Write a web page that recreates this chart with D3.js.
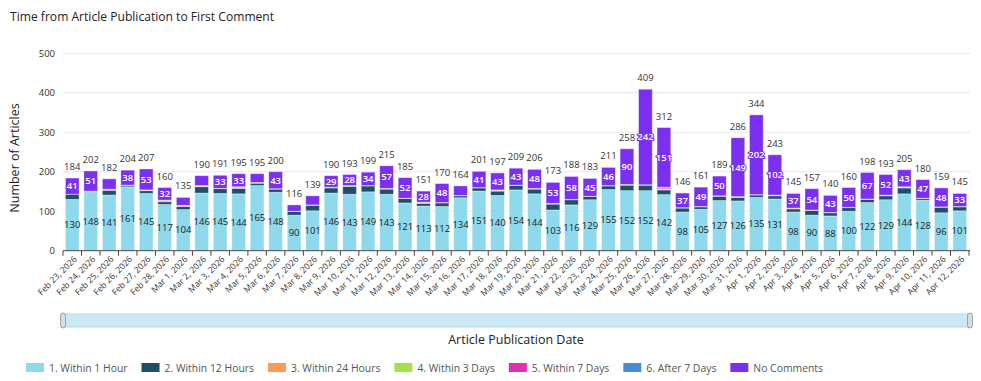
<!DOCTYPE html>
<html><head><meta charset="utf-8">
<script src="https://cdn.jsdelivr.net/npm/d3@7"></script>
<style>
body{margin:0;background:#fff;}
svg{font-family:"Open Sans",sans-serif;display:block;}
</style></head>
<body><svg id="c" width="981" height="381"></svg>
<script>
const dates = ["Feb 23, 2026","Feb 24, 2026","Feb 25, 2026","Feb 26, 2026","Feb 27, 2026","Feb 28, 2026",
"Mar 1, 2026","Mar 2, 2026","Mar 3, 2026","Mar 4, 2026","Mar 5, 2026","Mar 6, 2026","Mar 7, 2026","Mar 8, 2026","Mar 9, 2026","Mar 10, 2026",
"Mar 11, 2026","Mar 12, 2026","Mar 13, 2026","Mar 14, 2026","Mar 15, 2026","Mar 16, 2026","Mar 17, 2026","Mar 18, 2026","Mar 19, 2026","Mar 20, 2026",
"Mar 21, 2026","Mar 22, 2026","Mar 23, 2026","Mar 24, 2026","Mar 25, 2026","Mar 26, 2026","Mar 27, 2026","Mar 28, 2026","Mar 29, 2026","Mar 30, 2026",
"Mar 31, 2026","Apr 1, 2026","Apr 2, 2026","Apr 3, 2026","Apr 4, 2026","Apr 5, 2026","Apr 6, 2026","Apr 7, 2026","Apr 8, 2026","Apr 9, 2026",
"Apr 10, 2026","Apr 11, 2026","Apr 12, 2026"];
const within1h  = [130,148,141,161,145,117,104,146,145,144,165,148,90,101,146,143,149,143,121,113,112,134,151,140,154,144,103,116,129,155,152,152,142,98,105,127,126,135,131,98,90,88,100,122,129,144,128,96,101];
const within12h = [13,2,12,3,7,7,8,16,12,14,6,8,9,14,13,20,15,13,11,7,9,5,8,11,11,12,15,13,8,9,14,14,12,10,6,11,9,6,8,8,12,8,9,8,10,15,4,14,10];
const within24h = [0,1,3,2,2,3,2,2,1,3,2,1,1,1,2,2,1,2,1,2,1,1,1,2,1,2,2,1,1,1,2,1,2,1,1,1,1,1,2,2,1,1,1,1,2,2,1,1,1];
const within3d  = [0,0,0,0,0,1,1,1,0,1,0,0,0,0,0,0,0,0,0,1,0,0,0,1,0,0,0,0,0,0,0,0,1,0,0,0,1,0,0,0,0,0,0,0,0,1,0,0,0];
const within7d  = [0,0,0,0,0,0,0,0,0,0,0,0,0,0,0,0,0,0,0,0,0,0,0,0,0,0,0,0,0,0,0,0,3,0,0,0,0,0,0,0,0,0,0,0,0,0,0,0,0];
const after7d   = [0,0,0,0,0,0,0,0,0,0,0,0,0,0,0,0,0,0,0,0,0,0,0,0,0,0,0,0,0,0,0,0,1,0,0,0,0,0,0,0,0,0,0,0,0,0,0,0,0];
const noComments= [41,51,26,38,53,32,20,25,33,33,22,43,16,23,29,28,34,57,52,28,48,24,41,43,43,48,53,58,45,46,90,242,151,37,49,50,149,202,102,37,54,43,50,67,52,43,47,48,33];
const seriesNames = ["1. Within 1 Hour","2. Within 12 Hours","3. Within 24 Hours","4. Within 3 Days","5. Within 7 Days","6. After 7 Days","No Comments"];
const seriesColors = ["#8ed9ec","#1f4f66","#f89d58","#a8e048","#e62cb0","#4a8ad6","#7b2ff0"];
const yTicks = [0,100,200,300,400,500];

const seriesVals = [within1h,within12h,within24h,within3d,within7d,after7d,noComments];
const rows = dates.map((d,i)=>{const o={date:d};seriesNames.forEach((s,j)=>o[s]=seriesVals[j][i]);return o;});
const stack = d3.stack().keys(seriesNames)(rows);

const svg = d3.select("#c");
const L=63,R=969,T=53.3,B=250.7;
const x = d3.scaleBand().domain(dates).range([L,R]).paddingInner(0.26).paddingOuter(0.13);
const y = d3.scaleLinear().domain([0,500]).range([B,T]);
const color = d3.scaleOrdinal().domain(seriesNames).range(seriesColors);

svg.append("text").attr("x",10).attr("y",21).attr("font-size",12.1).attr("fill","#222").text("Time from Article Publication to First Comment");

// grid
svg.append("g").selectAll("line").data(yTicks.filter(t=>t>0)).join("line")
  .attr("x1",L).attr("x2",R+1).attr("y1",d=>y(d)).attr("y2",d=>y(d)).attr("stroke","#e8e8e8");
svg.append("g").selectAll("text").data(yTicks).join("text")
  .attr("x",55).attr("y",d=>y(d)).attr("dy","0.35em").attr("text-anchor","end")
  .attr("font-size",9.5).attr("fill","#333").text(d=>d);
svg.append("text").attr("transform",`translate(19,${(T+B)/2+6}) rotate(-90)`).attr("text-anchor","middle")
  .attr("font-size",12.5).attr("fill","#222").text("Number of Articles");

// bars
const g = svg.append("g");
g.selectAll("g").data(stack).join("g").attr("fill",d=>color(d.key))
 .selectAll("rect").data(d=>d).join("rect")
 .attr("x",d=>x(d.data.date)).attr("width",x.bandwidth())
 .attr("y",d=>y(d[1])).attr("height",d=>Math.max(0,y(d[0])-y(d[1])))
 .attr("stroke","rgba(255,255,255,0.45)").attr("stroke-width",0.8);

// x axis
svg.append("line").attr("x1",L).attr("x2",R+1).attr("y1",B).attr("y2",B).attr("stroke","#444");
const step = x.step();
const edges = dates.map(d=>x(d)-x.paddingInner()*step/2).concat([R]);
edges[0]=L;
svg.append("g").selectAll("line").data(edges).join("line")
  .attr("x1",d=>d).attr("x2",d=>d).attr("y1",B).attr("y2",B+5).attr("stroke","#444");
svg.append("g").selectAll("text").data(dates).join("text")
  .attr("transform",d=>`translate(${x(d)+x.bandwidth()/2+3},${B+7}) rotate(-45)`)
  .attr("text-anchor","end").attr("dy","0.35em").attr("font-size",8.6).attr("fill","#333").text(d=>d);

// segment labels
const h1 = stack[0], nc = stack[6];
svg.append("g").selectAll("text").data(h1).join("text")
  .attr("x",d=>x(d.data.date)+x.bandwidth()/2).attr("y",d=>(y(d[0])+y(d[1]))/2).attr("dy","0.35em")
  .attr("text-anchor","middle").attr("font-size",9.5).attr("fill","#222")
  .text(d=>d[1]-d[0]);
svg.append("g").selectAll("text").data(nc.filter(d=>d[1]-d[0]>=28)).join("text")
  .attr("x",d=>x(d.data.date)+x.bandwidth()/2).attr("y",d=>(y(d[0])+y(d[1]))/2).attr("dy","0.35em")
  .attr("text-anchor","middle").attr("font-size",9.5).attr("font-weight",600).attr("fill","#fff")
  .attr("stroke","#7b2ff0").attr("stroke-width",2).attr("paint-order","stroke").text(d=>d[1]-d[0]);
// totals
svg.append("g").selectAll("text").data(nc).join("text")
  .attr("x",d=>x(d.data.date)+x.bandwidth()/2).attr("y",d=>y(d[1])-8)
  .attr("text-anchor","middle").attr("font-size",9.5).attr("fill","#333").text(d=>d[1]);

// scrollbar
svg.append("rect").attr("x",L).attr("y",314).attr("width",R-L+1).attr("height",13).attr("fill","#cbe8f4").attr("stroke","#b5dbea");
[L,R+1].forEach(px=>svg.append("rect").attr("x",px-2.5).attr("y",313).attr("width",5).attr("height",15).attr("rx",2.5)
  .attr("fill","#d8dcdf").attr("stroke","#8a9299").attr("stroke-width",0.8));
svg.append("text").attr("x",(L+R)/2).attr("y",344).attr("text-anchor","middle").attr("font-size",12.5).attr("fill","#222").text("Article Publication Date");

// legend
const lg = svg.append("g");
let lx = 26;
seriesNames.forEach((s,i)=>{
  lg.append("rect").attr("x",lx).attr("y",363).attr("width",18).attr("height",9).attr("fill",seriesColors[i]);
  const t = lg.append("text").attr("x",lx+23).attr("y",371.5).attr("font-size",10.4).attr("fill","#555").text(s);
  lx += 23 + t.node().getComputedTextLength() + 14;
});
</script></body></html>
